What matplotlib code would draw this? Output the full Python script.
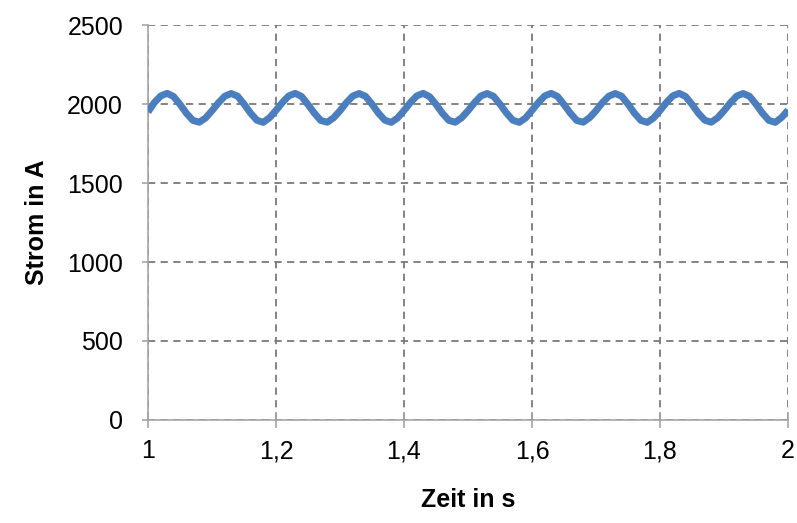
import matplotlib
matplotlib.use("Agg")
import matplotlib.pyplot as plt
from matplotlib.ticker import FixedLocator, FuncFormatter

plt.rcParams['font.family'] = ['Liberation Sans', 'DejaVu Sans']

# Time axis in seconds, sampled every 10 ms
zeit = [1.00 + i * 0.01 for i in range(101)]

# Measured current in A
strom = [
    1950, 2010, 2052, 2068, 2048, 1998, 1942, 1897, 1885, 1912,
    1958, 2008, 2050, 2067, 2050, 2000, 1944, 1898, 1884, 1914,
    1960, 2010, 2052, 2068, 2048, 1997, 1942, 1896, 1885, 1913,
    1958, 2009, 2051, 2067, 2049, 1999, 1943, 1898, 1884, 1912,
    1959, 2010, 2052, 2068, 2047, 1998, 1942, 1897, 1885, 1913,
    1958, 2008, 2051, 2067, 2049, 1999, 1944, 1898, 1884, 1912,
    1960, 2010, 2052, 2068, 2048, 1997, 1942, 1896, 1885, 1914,
    1958, 2009, 2050, 2067, 2050, 2000, 1943, 1897, 1884, 1912,
    1959, 2010, 2052, 2068, 2048, 1998, 1942, 1898, 1885, 1913,
    1958, 2008, 2051, 2067, 2049, 1999, 1943, 1897, 1884, 1915,
    1962,
]

x_ticks = [1.0, 1.2, 1.4, 1.6, 1.8, 2.0]
y_ticks = [0, 500, 1000, 1500, 2000, 2500]

fig = plt.figure(figsize=(7.97, 5.23), dpi=100)
ax = fig.add_axes([0.1857, 0.197, 0.803, 0.755])

ax.plot(zeit, strom, color='#4a7ebf', linewidth=5.0, solid_capstyle='butt', zorder=3)

ax.set_xlim(1.0, 2.0)
ax.set_ylim(0, 2500)
ax.xaxis.set_major_locator(FixedLocator(x_ticks))
ax.yaxis.set_major_locator(FixedLocator(y_ticks))
ax.xaxis.set_major_formatter(FuncFormatter(lambda v, p: f"{v:g}".replace('.', ',')))
ax.yaxis.set_major_formatter(FuncFormatter(lambda v, p: f"{int(v)}"))

ax.grid(True, color='#7a7a7a', linestyle=(0, (4, 3)), linewidth=1.3, zorder=1)

for side in ('top', 'right'):
    ax.spines[side].set_visible(False)
for side in ('left', 'bottom'):
    ax.spines[side].set_color('#a6a6a6')
    ax.spines[side].set_linewidth(1.2)

ax.tick_params(axis='y', direction='out', length=4.5, color='#a6a6a6', width=1.2,
               labelsize=18, pad=13.5)
ax.tick_params(axis='x', direction='inout', length=12, color='#a6a6a6', width=1.2,
               labelsize=18, pad=8)

ax.set_xlabel('Zeit in s', fontsize=18, fontweight='bold', labelpad=18)
ax.set_ylabel('Strom in A', fontsize=18, fontweight='bold', labelpad=13)

fig.savefig('out.png', dpi=100, facecolor='white')
